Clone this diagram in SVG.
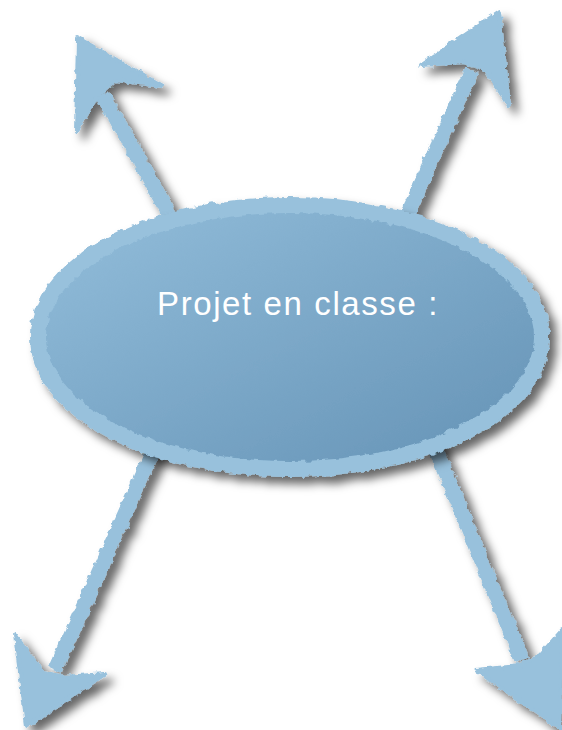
<svg xmlns="http://www.w3.org/2000/svg" width="562" height="730" viewBox="0 0 562 730">
<defs>
<linearGradient id="g" x1="0" y1="0" x2="1" y2="1">
<stop offset="0" stop-color="#93bedb"/>
<stop offset="1" stop-color="#6492b5"/>
</linearGradient>
<filter id="rough" x="-20%" y="-20%" width="140%" height="140%">
<feTurbulence type="fractalNoise" baseFrequency="0.15" numOctaves="2" seed="3" result="n"/>
<feDisplacementMap in="SourceGraphic" in2="n" scale="6" xChannelSelector="R" yChannelSelector="G" result="d"/>
<feDropShadow in="d" dx="7" dy="7" stdDeviation="5" flood-color="#000" flood-opacity="0.6"/>
</filter>
<style>
.arrow{fill:#98c1dc;stroke:#98c1dc;stroke-linejoin:round}
.shaft{fill:none;stroke:#98c1dc;stroke-width:15;stroke-linecap:butt}
.lbl{font-family:"Liberation Sans",Arial,sans-serif;font-size:33px;letter-spacing:1.6px;fill:#fff}
</style>
</defs>
<g id="connectors" filter="url(#rough)">
<g id="arrow-tl">
<line class="shaft" x1="178" y1="230" x2="103" y2="95"/>
<polygon class="arrow" stroke-width="4" points="78,38 162,86 116,80 97,97 76,132"/>
</g>
<g id="arrow-tr">
<line class="shaft" x1="400" y1="230" x2="472" y2="70"/>
<polygon class="arrow" stroke-width="4" points="499,12 509,106 486,70 464,62 421,65"/>
</g>
<g id="arrow-bl">
<line class="shaft" x1="158" y1="440" x2="55" y2="670"/>
<polygon class="arrow" stroke-width="4" points="27,726 15,634 42,672 64,677 105,674"/>
</g>
<g id="arrow-br">
<line class="shaft" x1="432" y1="440" x2="522" y2="660"/>
<polygon class="arrow" stroke-width="4" points="560,728 476,670 519,666 540,655 562,630"/>
</g>
</g>
<g id="node-center">
<ellipse cx="290" cy="337" rx="252" ry="132" fill="url(#g)" stroke="#98c1dc" stroke-width="16" filter="url(#rough)"/>
<text class="lbl" x="298" y="315" text-anchor="middle">Projet en classe :</text>
</g>
</svg>
